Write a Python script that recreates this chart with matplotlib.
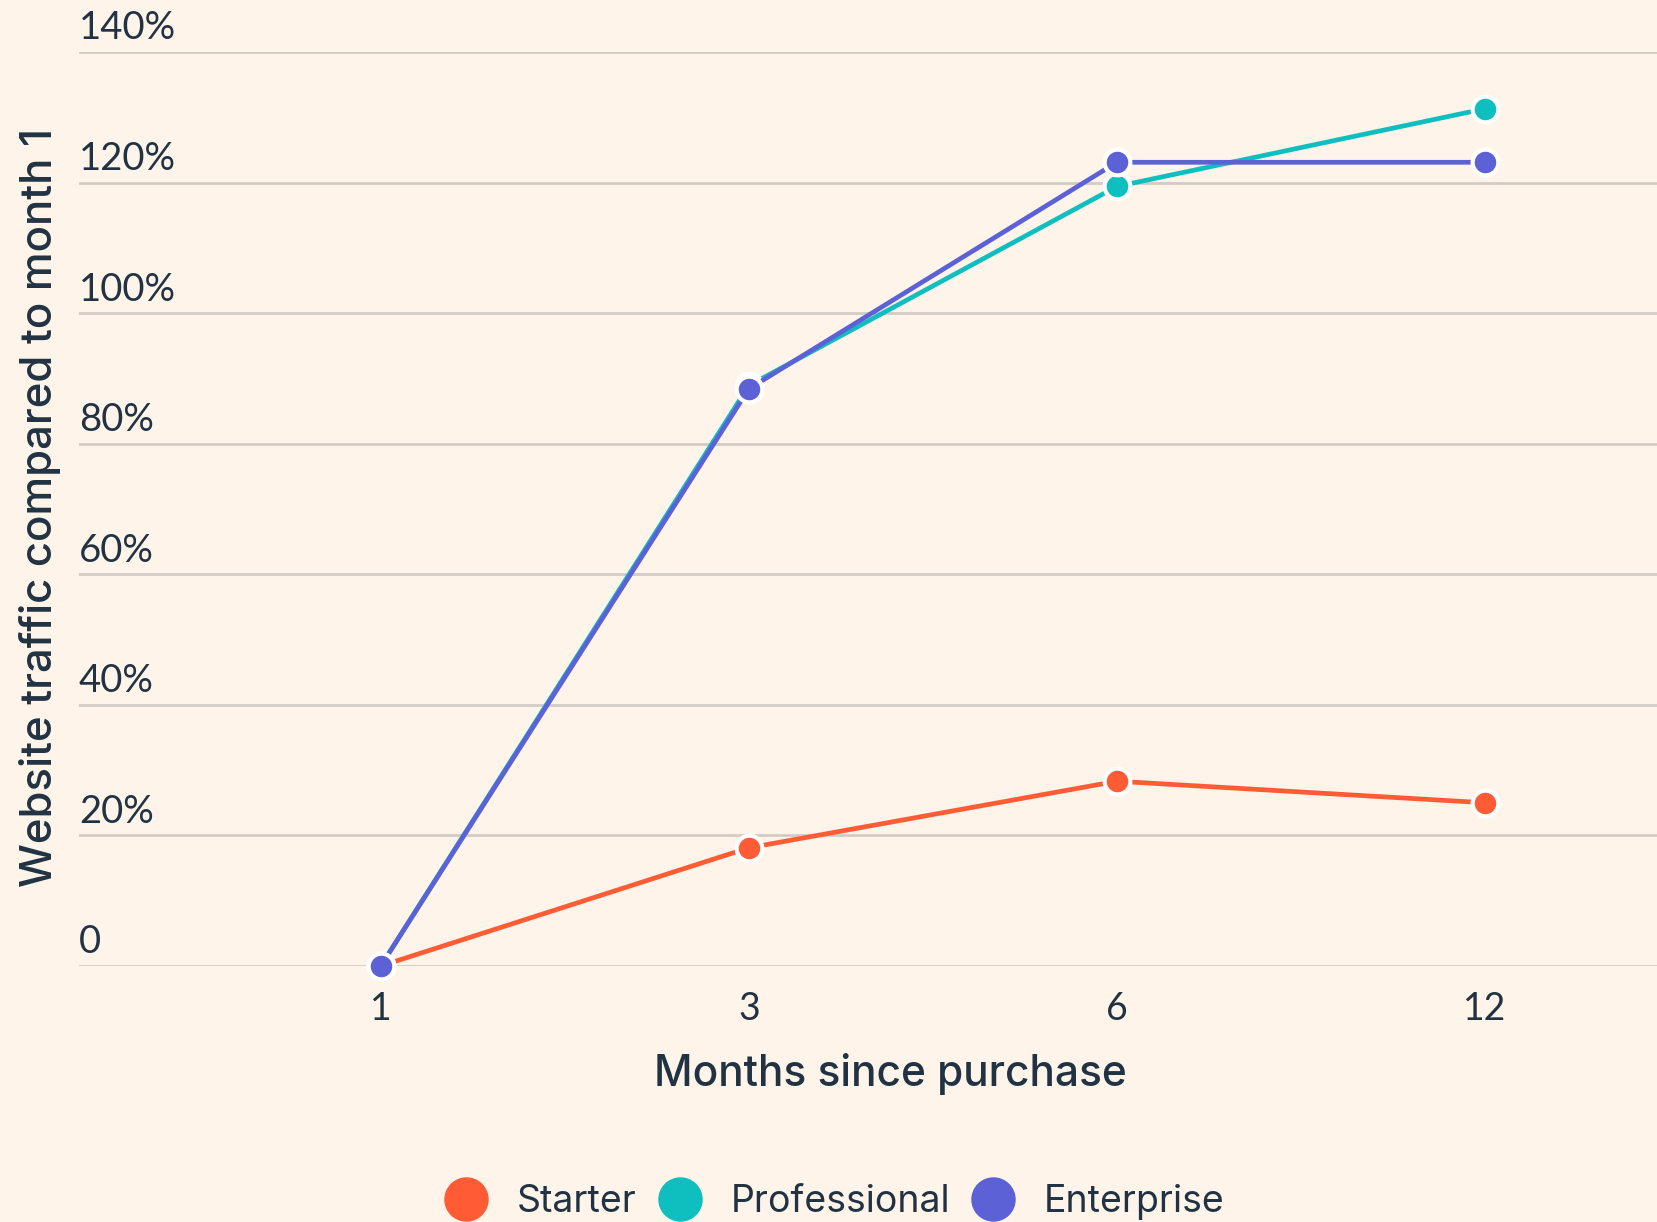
import matplotlib
matplotlib.use("Agg")
import matplotlib.pyplot as plt
from matplotlib.lines import Line2D

# data
months = ["1", "3", "6", "12"]
starter = [0, 18.1, 28.3, 25.0]
professional = [0, 88.9, 119.4, 131.3]
enterprise = [0, 88.4, 123.1, 123.1]
y_ticks = [0, 20, 40, 60, 80, 100, 120, 140]
y_tick_labels = ["0", "20%", "40%", "60%", "80%", "100%", "120%", "140%"]

series = [
    ("Starter", starter, "#FF5C35"),
    ("Professional", professional, "#0FBFBF"),
    ("Enterprise", enterprise, "#5C62D6"),
]

bg = "#FEF4EA"
text_color = "#213343"
grid_color = "#D3CCC6"

fig = plt.figure(figsize=(16.58, 12.22), dpi=100, facecolor=bg)
ax = fig.add_axes([0.0476, 0.2095, 0.9524, 0.748])
ax.set_facecolor(bg)

x = list(range(len(months)))
for name, vals, color in series:
    ax.plot(x, vals, color=color, lw=3.4, marker="o", markersize=18.5,
            markerfacecolor=color, markeredgecolor="white", markeredgewidth=3,
            clip_on=False, zorder=3, solid_joinstyle="round")

ax.set_xlim(-0.82, 3.47)
ax.set_ylim(0, 140)

# grid lines
for v in y_ticks:
    ax.axhline(v, color=grid_color, lw=2, zorder=1)

# y tick labels sit above the grid lines at the left
ax.set_yticks([])
for v, lab in zip(y_ticks, y_tick_labels):
    ax.annotate(lab, xy=(0, v), xycoords=ax.get_yaxis_transform(),
                xytext=(0, 4), textcoords="offset points",
                ha="left", va="bottom", fontsize=27.5, color=text_color,
                family="Lato", annotation_clip=False)

ax.set_xticks(x)
ax.set_xticklabels(months, fontsize=27, color=text_color, family="Lato")
ax.tick_params(axis="x", length=0, pad=18)

for s in ax.spines.values():
    s.set_visible(False)

ax.set_xlabel("Months since purchase", fontsize=30.5, color=text_color,
              family="Inter", fontweight="medium")
ax.xaxis.set_label_coords(0.5136, -0.095)
fig.text(0.024, 0.585, "Website traffic compared to month 1", rotation=90,
         ha="center", va="center", fontsize=31.5, color=text_color,
         family="Inter", fontweight="medium")

handles = [Line2D([], [], ls="none", marker="o", markersize=31,
                  markerfacecolor=c, markeredgecolor=c) for _, _, c in series]
fig.legend(handles, [n for n, _, _ in series], loc="center",
           bbox_to_anchor=(0.503, 0.016), ncol=3, frameon=False,
           labelcolor=text_color, prop={"family": "Inter", "size": 27},
           handletextpad=0.75, columnspacing=0.55, handlelength=1.2)

plt.savefig("out.png", dpi=100, facecolor=bg)
